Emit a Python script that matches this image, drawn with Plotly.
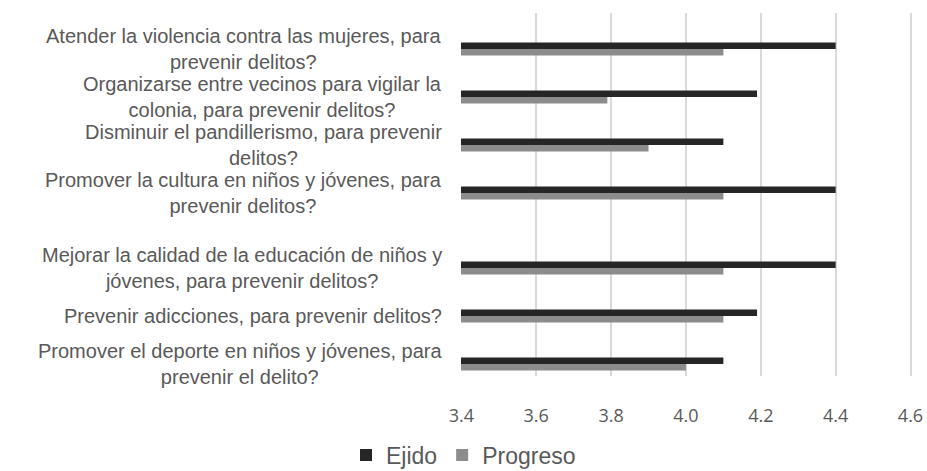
import plotly.graph_objects as go

# Survey items, listed top to bottom as displayed
categories = [
    "Atender la violencia contra las mujeres, para<br>prevenir delitos?",
    "Organizarse entre vecinos para vigilar la<br>colonia, para prevenir delitos?",
    "Disminuir el pandillerismo, para prevenir<br>delitos?",
    "Promover la cultura en niños y jóvenes, para<br>prevenir delitos?",
    "Mejorar la calidad de la educación de niños y<br>jóvenes, para prevenir delitos?",
    "Prevenir adicciones, para prevenir delitos?",
    "Promover el deporte en niños y jóvenes, para<br>prevenir el delito?",
]
ejido = [4.4, 4.19, 4.1, 4.4, 4.4, 4.19, 4.1]
progreso = [4.1, 3.79, 3.9, 4.1, 4.1, 4.1, 4.0]
x_ticks = [3.4, 3.6, 3.8, 4.0, 4.2, 4.4, 4.6]
x_tick_labels = ["3.4", "3.6", "3.8", "4.0", "4.2", "4.4", "4.6"]

# Row centres on a numeric axis (the lower block sits a little further down)
row_pos = [0, 1, 2, 3, 4.56, 5.56, 6.56]
bar_w = 0.135

fig = go.Figure()
fig.add_trace(go.Bar(
    name="Ejido", y=row_pos, x=ejido, orientation="h",
    width=bar_w, offset=-bar_w, marker=dict(color="#262626", line=dict(width=0)),
))
fig.add_trace(go.Bar(
    name="Progreso", y=row_pos, x=progreso, orientation="h",
    width=bar_w, offset=0, marker=dict(color="#8c8c8c", line=dict(width=0)),
))

# Centred, two-line category labels to the left of the plot
for pos, label in zip(row_pos, categories):
    fig.add_annotation(
        x=0, xref="paper", xshift=-17, xanchor="right",
        y=pos, yref="y", yanchor="middle",
        text=label, showarrow=False, align="center",
        font=dict(family="Arial", size=20, color="#595959"),
    )

fig.update_layout(
    width=927, height=471,
    margin=dict(l=461, r=12, t=13, b=95),
    plot_bgcolor="white", paper_bgcolor="white",
    barmode="overlay",
    showlegend=True,
    legend=dict(
        orientation="h", xref="container", yref="container",
        x=0.5, xanchor="center", y=0.034, yanchor="middle",
        font=dict(family="Arial", size=23, color="#595959"),
        traceorder="normal", itemclick=False,
    ),
)
fig.update_xaxes(
    range=[3.399, 4.612], tickvals=x_ticks, ticktext=x_tick_labels,
    showgrid=True, gridcolor="#d9d9d9", gridwidth=1.5,
    zeroline=False, showline=False, ticks="",
    ticklabelstandoff=27, automargin=False,
    tickfont=dict(family="Open Sans", size=18, color="#595959"),
)
fig.update_yaxes(
    range=[6.81, -0.75], showticklabels=False, showgrid=False,
    zeroline=False, showline=False, ticks="",
)

fig.write_html("out.html")
